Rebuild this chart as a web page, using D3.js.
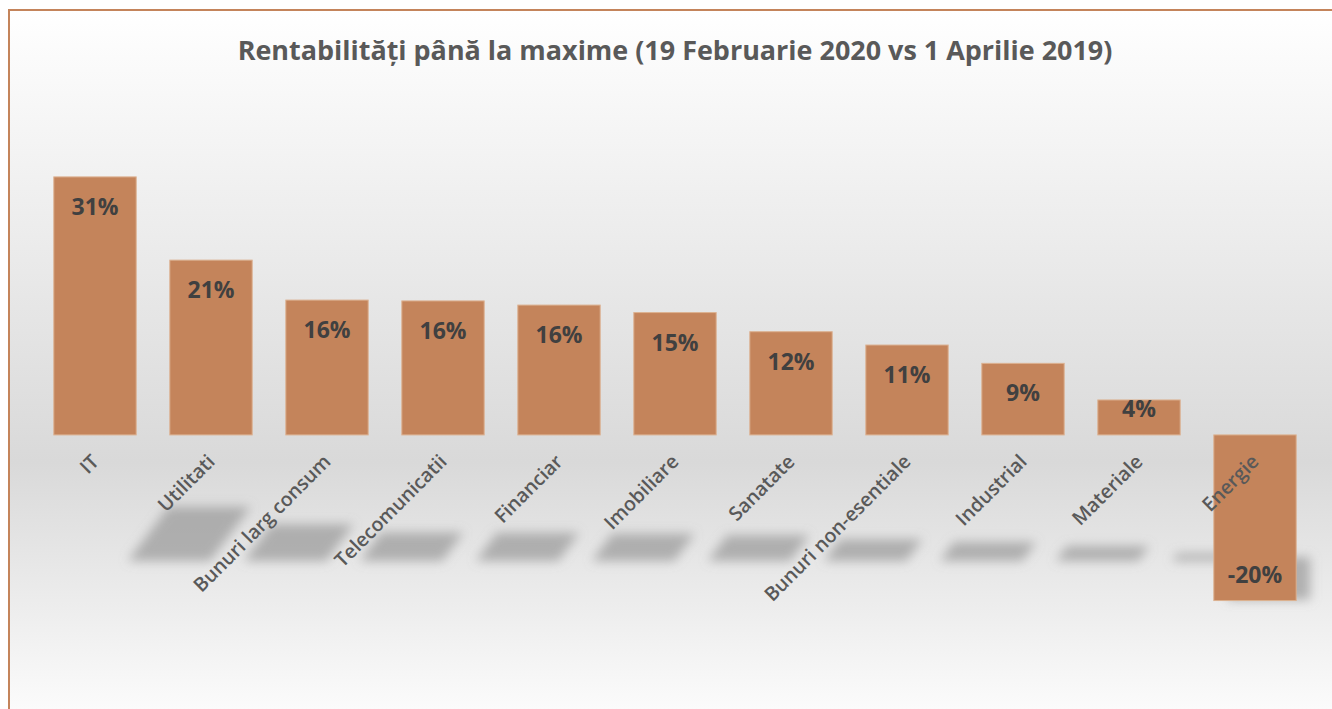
<!DOCTYPE html>
<html>

<head>
    <meta charset="utf-8">
    <script src="https://cdn.jsdelivr.net/npm/d3@7"></script>
    <title>Rentabilitati</title>
    <style>
        body {
            margin: 0;
            background: #ffffff;
        }

        text {
            font-family: "Open Sans", "DejaVu Sans", sans-serif;
        }
    </style>
</head>

<body>
    <div id="chart-container"></div>

    <script>
        const title = "Rentabilități până la maxime (19 Februarie 2020 vs 1 Aprilie 2019)";
        const categories = ["IT", "Utilitati", "Bunuri larg consum", "Telecomunicatii", "Financiar",
            "Imobiliare", "Sanatate", "Bunuri non-esentiale", "Industrial", "Materiale", "Energie"];
        const returns = [31, 21, 16.2, 16.1, 15.6, 14.7, 12.4, 10.8, 8.6, 4.2, -19.9];

        const width = 1332;
        const height = 709;
        const barColor = "#c4845b";

        const data = categories.map((c, i) => ({ name: c, value: returns[i] }));

        const svg = d3.select("#chart-container").append("svg")
            .attr("width", width)
            .attr("height", height);

        const defs = svg.append("defs");

        const grad = defs.append("linearGradient")
            .attr("id", "bg")
            .attr("x1", 0).attr("y1", 0)
            .attr("x2", 0).attr("y2", 1);
        grad.append("stop").attr("offset", "0%").attr("stop-color", "#ffffff");
        grad.append("stop").attr("offset", "62%").attr("stop-color", "#d9d9d9");
        grad.append("stop").attr("offset", "100%").attr("stop-color", "#ffffff");

        defs.append("filter")
            .attr("id", "blur")
            .attr("x", "-50%").attr("y", "-50%")
            .attr("width", "200%").attr("height", "200%")
            .append("feGaussianBlur")
            .attr("stdDeviation", 5.5);

        // chart area (runs off the right and bottom edge like the screenshot)
        svg.append("rect")
            .attr("x", 9)
            .attr("y", 10)
            .attr("width", width + 20)
            .attr("height", height + 20)
            .attr("fill", "url(#bg)")
            .attr("stroke", "#c4845b")
            .attr("stroke-width", 2);

        const x = d3.scaleBand()
            .domain(categories)
            .range([37, 1313])
            .paddingInner(0.29)
            .paddingOuter(0.145);

        const y = d3.scaleLinear()
            .domain([-25, 40])
            .range([643, 102]);

        // title, sized to the width of the original
        const t = svg.append("text")
            .attr("x", 675)
            .attr("y", 60)
            .attr("text-anchor", "middle")
            .attr("fill", "#595959")
            .attr("font-weight", 700)
            .attr("font-size", 26)
            .text(title);
        const tw = t.node().getComputedTextLength();
        t.attr("font-size", 26 * 875 / tw);

        // perspective shadows on the "floor"
        const floor = y(0) + 126;
        const shadow = d => {
            const x0 = x(d.name), x1 = x0 + x.bandwidth();
            const h = Math.abs(y(d.value) - y(0)) * 0.21;
            if (d.value >= 0) {
                const s = h * 0.75;
                return `${x0 + 74},${floor} ${x1 + 74},${floor} ${x1 + 74 + s},${floor - h} ${x0 + 74 + s},${floor - h}`;
            }
            return `${x0 + 14},${floor - 4} ${x1 + 14},${floor - 4} ${x1 + 14},${floor + h + 4} ${x0 + 14},${floor + h + 4}`;
        };

        svg.append("g")
            .attr("filter", "url(#blur)")
            .selectAll("polygon")
            .data(data)
            .join("polygon")
            .attr("points", shadow)
            .attr("fill", "#8a8a8a")
            .attr("fill-opacity", 0.6);

        // bars
        svg.append("g")
            .selectAll("rect")
            .data(data)
            .join("rect")
            .attr("x", d => x(d.name))
            .attr("y", d => Math.min(y(d.value), y(0)))
            .attr("width", x.bandwidth())
            .attr("height", d => Math.abs(y(d.value) - y(0)))
            .attr("fill", barColor)
            .attr("stroke", "#dcb190")
            .attr("stroke-width", 1);

        // value labels (inside end)
        svg.append("g")
            .selectAll("text")
            .data(data)
            .join("text")
            .attr("x", d => x(d.name) + x.bandwidth() / 2)
            .attr("y", d => {
                const h = Math.abs(y(d.value) - y(0));
                if (d.value < 0) return y(d.value) - 18;
                return h > 50 ? y(d.value) + 38 : y(d.value) + 17;
            })
            .attr("text-anchor", "middle")
            .attr("fill", "#404040")
            .attr("font-weight", 700)
            .attr("font-size", 23)
            .text(d => Math.round(d.value) + "%");

        // category labels
        svg.append("g")
            .selectAll("text")
            .data(data)
            .join("text")
            .attr("transform", d => `translate(${x(d.name) + x.bandwidth() / 2 + 5},${y(0) + 28}) rotate(-45)`)
            .attr("text-anchor", "end")
            .attr("fill", "#595959")
            .attr("font-weight", 600)
            .attr("font-size", 19.5)
            .text(d => d.name);
    </script>

</body>

</html>
